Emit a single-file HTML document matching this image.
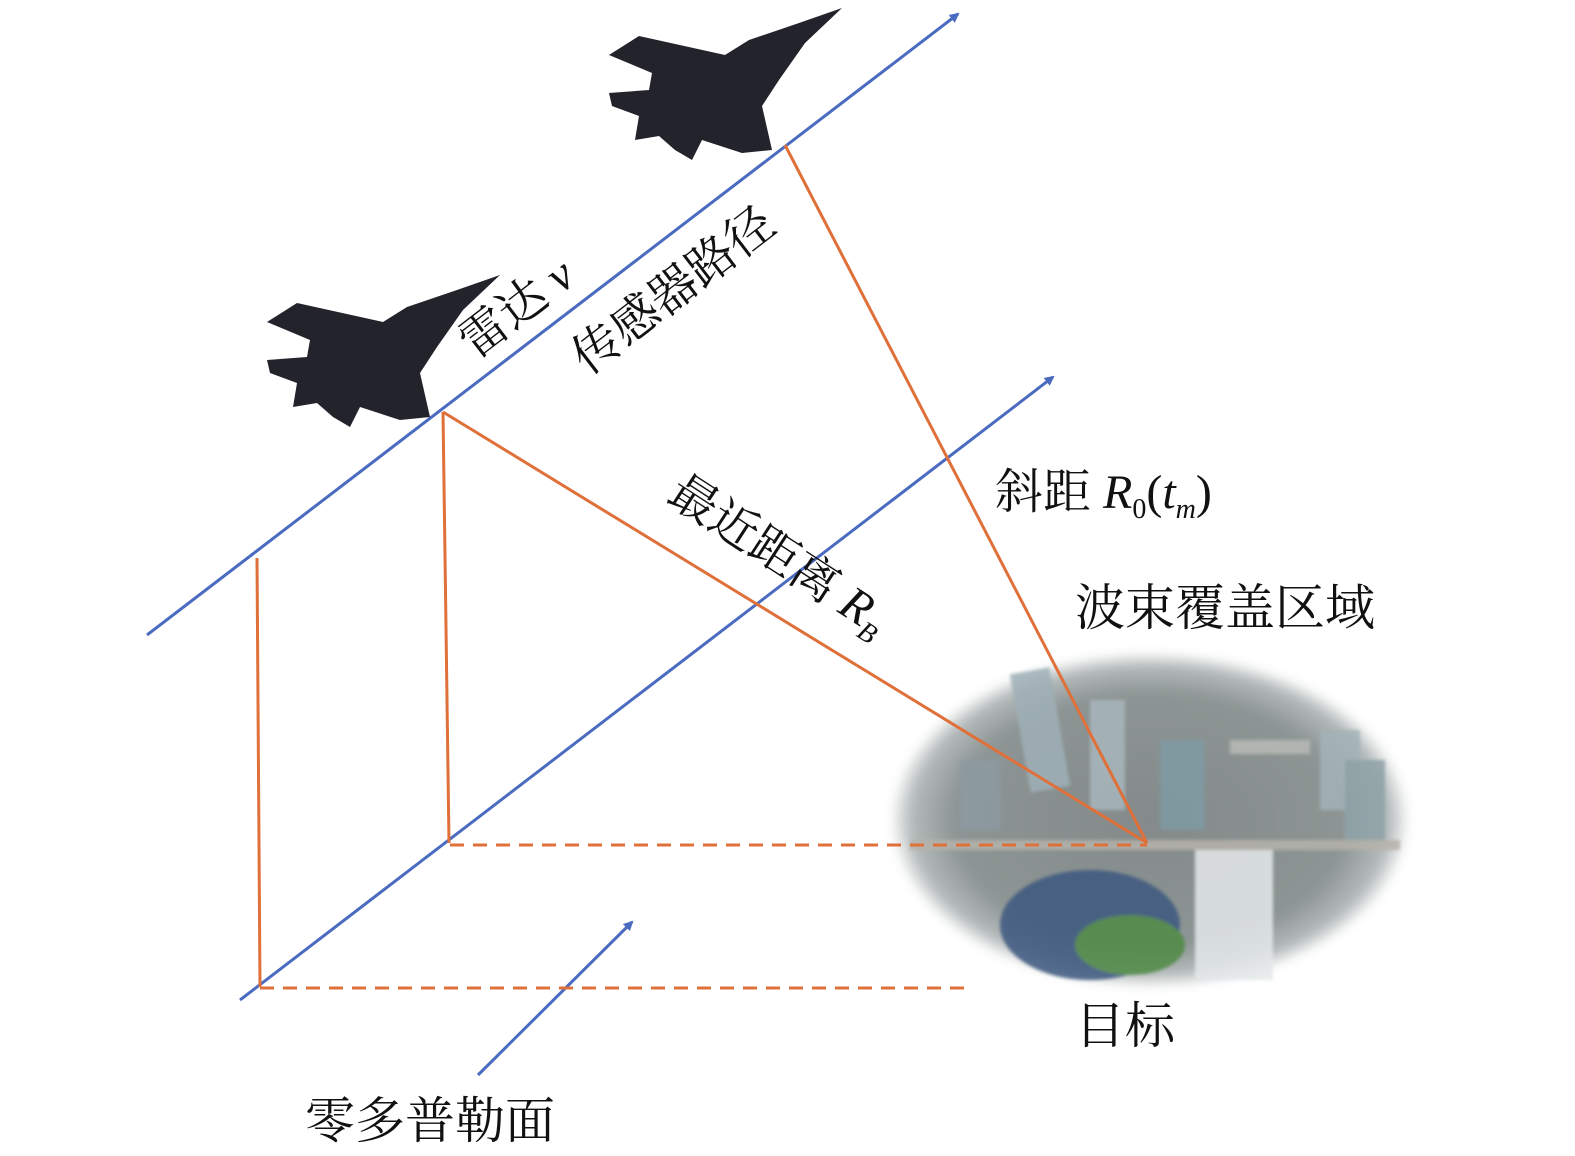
<!DOCTYPE html>
<html><head><meta charset="utf-8"><style>
body{margin:0;background:#fff}
svg{display:block}
text{font-family:"Liberation Serif","Noto Serif CJK SC",serif;fill:#111}
</style></head><body>
<svg width="1575" height="1156" viewBox="0 0 1575 1156" xmlns="http://www.w3.org/2000/svg">
<defs>
<marker id="ar" markerWidth="10" markerHeight="10" refX="8" refY="5" orient="auto" markerUnits="userSpaceOnUse" viewBox="0 0 10 10">
<path d="M0,0 L10,5 L0,10 Z" fill="#4a6bc0"/></marker>
<radialGradient id="city" cx="50%" cy="50%" r="50%">
<stop offset="0" stop-color="#838a89"/><stop offset="0.75" stop-color="#8d9594"/><stop offset="0.92" stop-color="#b5bbbb"/><stop offset="1" stop-color="#fff"/></radialGradient>
<filter id="bl"><feGaussianBlur stdDeviation="5"/></filter>
<filter id="bl2"><feGaussianBlur stdDeviation="1.5"/></filter>
<g id="jet">
<path d="M500,275 L457,290 L407,307 L383,322 L297,303 L267,322 L310,340 L307,357 L267,360 L270,373 L297,383 L293,407 L317,403 L333,417 L350,427 L360,407 L400,420 L430,417 L420,373 L437,347 L463,310 Z" fill="#22232b"/>
</g>
</defs>
<g filter="url(#bl)"><ellipse cx="1150" cy="820" rx="260" ry="168" fill="url(#city)"/></g>
<g filter="url(#bl2)" opacity="0.85">
<rect x="1020" y="670" width="40" height="120" fill="#9fb0b8" transform="rotate(-10 1040 730)"/>
<rect x="1090" y="700" width="35" height="110" fill="#a8b6bc"/>
<rect x="1160" y="740" width="45" height="90" fill="#7f9aa3"/>
<rect x="1320" y="730" width="40" height="80" fill="#a3b3b8"/>
<rect x="1345" y="760" width="40" height="90" fill="#8fa3a8"/>
<rect x="960" y="760" width="40" height="70" fill="#8c9aa0"/>
<rect x="1230" y="740" width="80" height="14" fill="#b8bab5"/>
<ellipse cx="1090" cy="925" rx="90" ry="55" fill="#3e5880"/>
<ellipse cx="1130" cy="945" rx="55" ry="30" fill="#4f8a45"/>
<rect x="1195" y="840" width="78" height="140" fill="#e4e8ea"/>
<rect x="910" y="840" width="490" height="10" fill="#b5b2aa"/>
</g>
<g stroke="#4a6bc0" stroke-width="3" fill="none">
<line x1="147" y1="635" x2="958" y2="14" marker-end="url(#ar)"/>
<line x1="240" y1="1000" x2="1053" y2="377" marker-end="url(#ar)"/>
<line x1="478" y1="1075" x2="632" y2="922" marker-end="url(#ar)"/>
</g>
<g stroke="#e0703a" stroke-width="3" fill="none">
<line x1="257" y1="558" x2="260" y2="987"/>
<line x1="443" y1="412" x2="449" y2="843"/>
<line x1="443" y1="412" x2="1147" y2="843"/>
<line x1="785" y1="145" x2="1147" y2="843"/>
<line x1="450" y1="845" x2="1147" y2="845" stroke-dasharray="14,9"/>
<line x1="260" y1="988" x2="965" y2="988" stroke-dasharray="14,9"/>
</g>
<use href="#jet"/>
<use href="#jet" transform="translate(342,-267)"/>
<text font-size="48" transform="translate(475,360) rotate(-37.5)">雷达 <tspan font-style="italic">v</tspan></text>
<text font-size="48" transform="translate(588,376) rotate(-37.5)">传感器路径</text>
<text font-size="48" transform="translate(665,500) rotate(33)">最近距离 <tspan font-style="italic">R</tspan><tspan font-style="italic" font-size="28" dy="10">B</tspan></text>
<text font-size="48" x="995" y="508">斜距 <tspan font-style="italic">R</tspan><tspan font-size="28" dy="10">0</tspan><tspan dy="-10">(</tspan><tspan font-style="italic">t</tspan><tspan font-style="italic" font-size="28" dy="10">m</tspan><tspan dy="-10">)</tspan></text>
<text font-size="50" x="1075" y="625">波束覆盖区域</text>
<text font-size="50" x="1075" y="1043">目标</text>
<text font-size="50" x="305" y="1138">零多普勒面</text>
</svg>
</body></html>
